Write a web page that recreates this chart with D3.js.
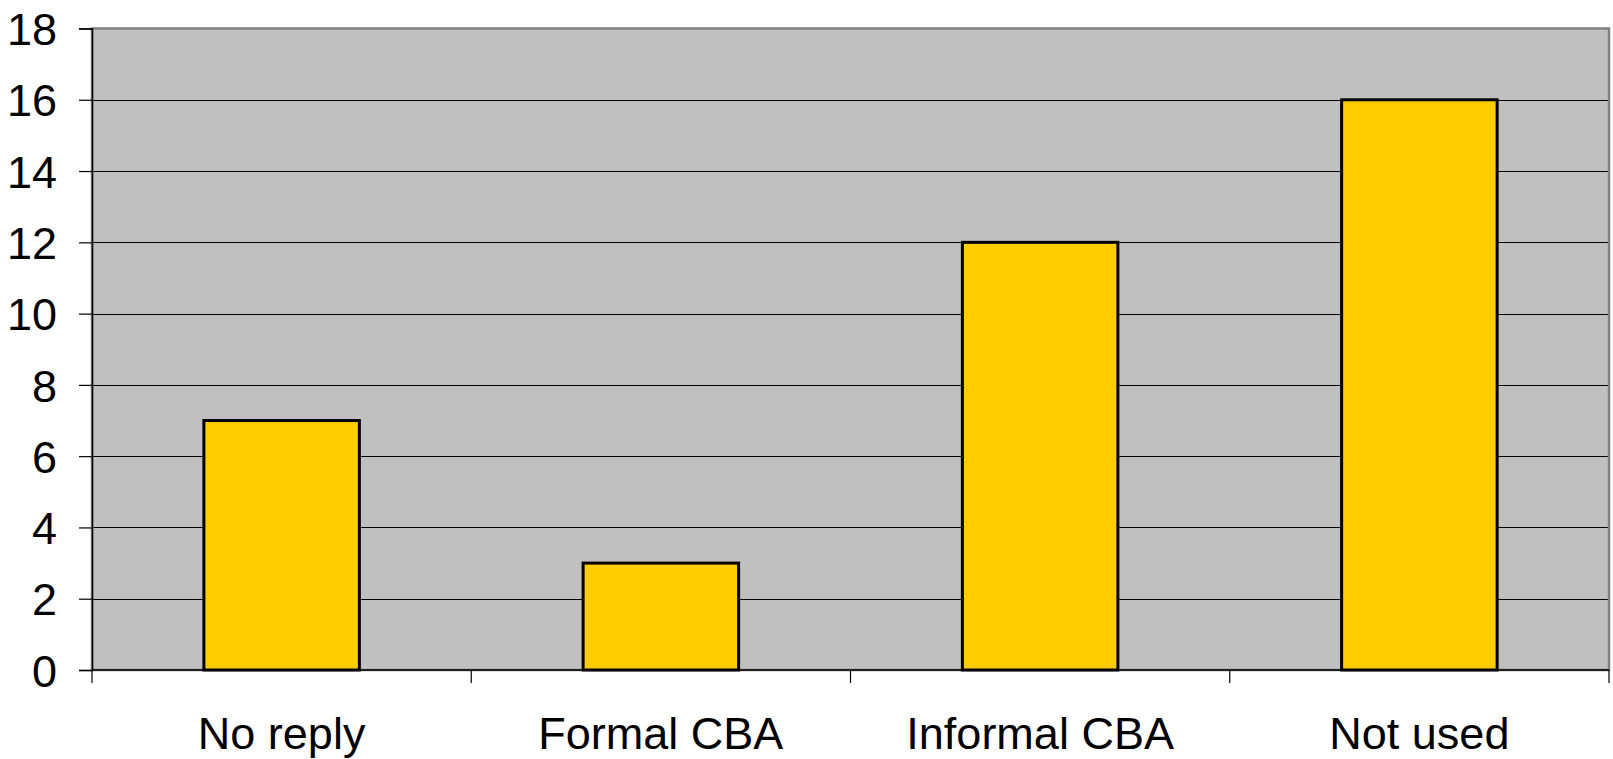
<!DOCTYPE html>
<html>
<head>
<meta charset="utf-8">
<script src="https://cdn.jsdelivr.net/npm/d3@7"></script>
<style>
  body { margin: 0; background: #fff; }
  svg text { font-family: "Liberation Sans", Arial, sans-serif; fill: #000; }
</style>
</head>
<body>
<svg id="chart"></svg>
<script>
// data
const categories = ["No reply", "Formal CBA", "Informal CBA", "Not used"];
const counts = [7, 3, 12, 16];
const yTicks = [0, 2, 4, 6, 8, 10, 12, 14, 16, 18];

const w = 1613, h = 759;
const margin = { top: 28.5, right: 4, bottom: 89, left: 92 };

const svg = d3.select("#chart").attr("width", w).attr("height", h);

const xScale = d3.scaleBand()
    .domain(categories)
    .range([margin.left, w - margin.right])
    .paddingInner(0.59)
    .paddingOuter(0.295);

const yScale = d3.scaleLinear()
    .domain([0, 18])
    .range([h - margin.bottom, margin.top]);

// plot area background
svg.append("rect")
    .attr("x", margin.left)
    .attr("y", yScale(18))
    .attr("width", w - margin.right - margin.left)
    .attr("height", yScale(0) - yScale(18))
    .attr("fill", "#c0c0c0");

// gridlines
svg.append("g")
    .selectAll("line")
    .data(yTicks.filter(d => d > 0 && d < 18))
    .join("line")
    .attr("x1", margin.left)
    .attr("x2", w - margin.right)
    .attr("y1", d => Math.round(yScale(d)) + 0.5)
    .attr("y2", d => Math.round(yScale(d)) + 0.5)
    .attr("stroke", "#000")
    .attr("stroke-width", 1);

// plot border
svg.append("rect")
    .attr("x", margin.left)
    .attr("y", yScale(18))
    .attr("width", w - margin.right - margin.left)
    .attr("height", yScale(0) - yScale(18))
    .attr("fill", "none")
    .attr("stroke", "#808080")
    .attr("stroke-width", 2.5);

// bars
svg.append("g")
    .selectAll("rect")
    .data(counts)
    .join("rect")
    .attr("x", (d, i) => xScale(categories[i]))
    .attr("y", d => yScale(d))
    .attr("width", xScale.bandwidth())
    .attr("height", d => yScale(0) - yScale(d))
    .attr("fill", "#ffcc00")
    .attr("stroke", "#000")
    .attr("stroke-width", 3);

// y axis
let yAxis = g => g
    .attr("transform", `translate(${margin.left},0)`)
    .call(d3.axisLeft(yScale).tickValues(yTicks).tickSize(13).tickPadding(22))
    .call(g => g.selectAll(".domain").attr("stroke", "#000").attr("stroke-width", 1.5))
    .call(g => g.selectAll(".tick line").attr("stroke", "#000").attr("stroke-width", 1.2))
    .call(g => g.selectAll(".tick text")
        .attr("font-size", 45)
        .attr("font-family", "'Liberation Sans', Arial, sans-serif")
        .attr("dy", "0.36em"));

svg.append("g").call(yAxis);

// x axis: ticks at category boundaries
const step = xScale.step();
const boundaries = d3.range(categories.length + 1).map(i => margin.left + i * step);

const xAxisG = svg.append("g");
xAxisG.append("line")
    .attr("x1", margin.left)
    .attr("x2", w - margin.right)
    .attr("y1", yScale(0))
    .attr("y2", yScale(0))
    .attr("stroke", "#000")
    .attr("stroke-width", 1.5);
xAxisG.selectAll(".xtick")
    .data(boundaries)
    .join("line")
    .attr("class", "xtick")
    .attr("x1", d => d)
    .attr("x2", d => d)
    .attr("y1", yScale(0))
    .attr("y2", yScale(0) + 13)
    .attr("stroke", "#000")
    .attr("stroke-width", 1.2);
xAxisG.selectAll("text")
    .data(categories)
    .join("text")
    .attr("x", d => xScale(d) + xScale.bandwidth() / 2)
    .attr("y", 749)
    .attr("text-anchor", "middle")
    .attr("font-size", 45)
    .text(d => d);
</script>
</body>
</html>
